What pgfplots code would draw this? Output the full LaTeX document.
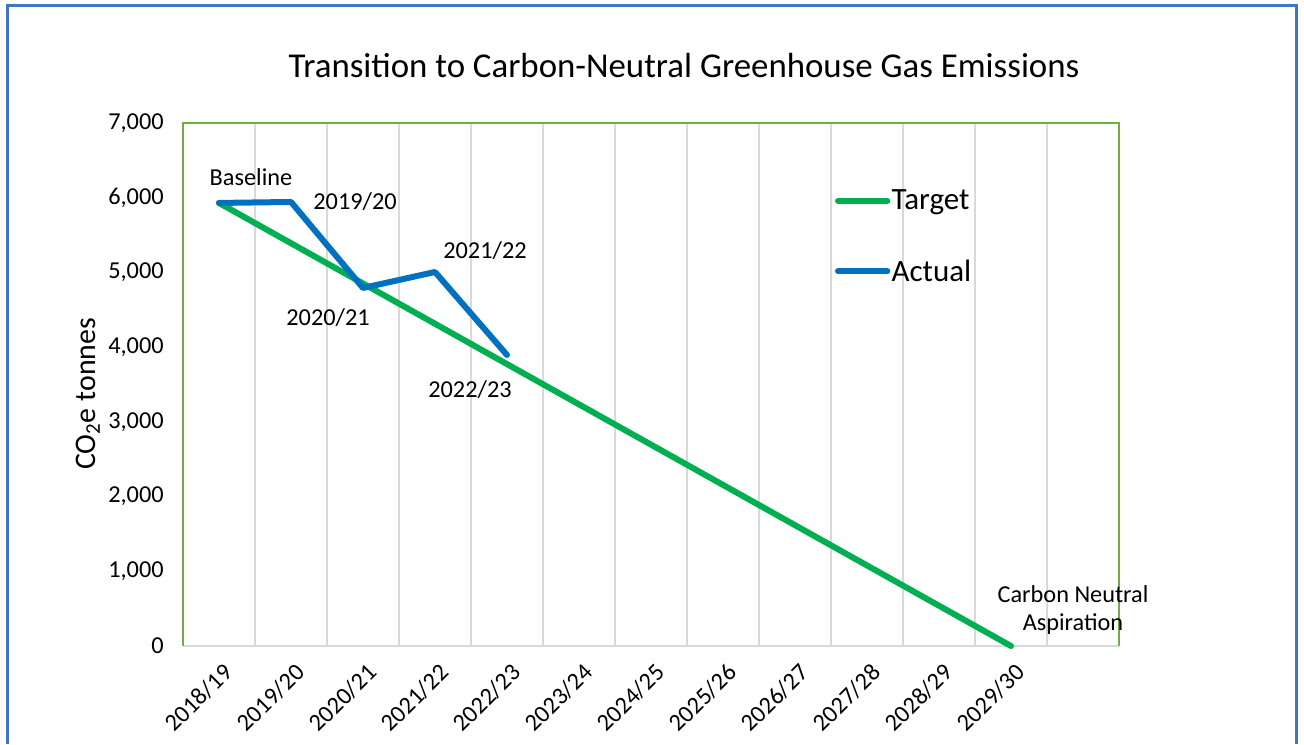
\documentclass[border=0pt]{standalone}
\usepackage{pgfplots}
\pgfplotsset{compat=1.18}
\usepackage{fontspec}
\setmainfont{Carlito}
\definecolor{tgreen}{HTML}{00B050}
\definecolor{ablue}{HTML}{0070C0}
\definecolor{framegreen}{HTML}{70AD47}
\definecolor{outerblue}{HTML}{4472C4}
\definecolor{gridgray}{HTML}{D9D9D9}
\begin{document}
\begin{tikzpicture}[x=0.75bp,y=0.75bp]
\useasboundingbox (0,0) rectangle (1304,744);
\draw[outerblue, line width=2.25bp] (7.5,0) -- (7.5,738) -- (1296,738) -- (1296,0);
\node[font=\fontsize{26.25}{30}\selectfont] at (684,678) {Transition to Carbon-Neutral Greenhouse Gas Emissions};
\begin{axis}[
  at={(137.25bp,73.5bp)}, anchor=south west,
  width=702bp, height=392.25bp, scale only axis,
  xmin=-0.5, xmax=12.5, ymin=0, ymax=7000,
  axis line style={draw=none},
  xtick={0,...,11},
  xticklabels={2018/19,2019/20,2020/21,2021/22,2022/23,2023/24,2024/25,2025/26,2026/27,2027/28,2028/29,2029/30},
  minor xtick={0.5,1.5,...,11.5},
  xminorgrids=true,
  minor grid style={gridgray, line width=1.5bp},
  major tick length=0pt, minor tick length=0pt,
  ytick={0,1000,...,7000},
  yticklabel style={/pgf/number format/1000 sep={,}, /pgf/number format/assume math mode=true, xshift=-11bp},
  tick label style={font=\fontsize{18.3}{21}\selectfont},
  x tick label style={rotate=45, anchor=north east, yshift=-6.5bp, xshift=-3.5bp},
  ylabel={CO\textsubscript{2}e tonnes},
  ylabel style={font=\fontsize{22.5}{26}\selectfont, at={(rel axis cs:-0.1015,0.482)}, anchor=center},
  legend style={draw=none, fill=none, at={(0.692,0.783)}, anchor=west,
    font=\fontsize{23.3}{26}\selectfont, row sep=34bp, column sep=0pt,
    nodes={inner sep=1bp}},
  legend cell align=left,
  legend image code/.code={\draw[#1] (0bp,0bp) -- (37bp,0bp);},
  clip=false,
]
\draw[gridgray, line width=1.5bp] (rel axis cs:0,0) -- (rel axis cs:1,0);
\draw[framegreen, line width=1.1bp] (rel axis cs:0,0) -- (rel axis cs:0,1) -- (rel axis cs:1,1) -- (rel axis cs:1,0);
\addplot[tgreen, line width=4.5bp, line cap=round, line join=round] coordinates {
  (0,5930) (1,5391) (2,4852) (3,4313) (4,3773) (5,3234) (6,2695) (7,2156) (8,1617) (9,1078) (10,539) (11,0)};
\addlegendentry{Target}
\addplot[ablue, line width=4.5bp, line cap=round, line join=round] coordinates {
  (0,5930) (1,5943) (2,4792) (3,5006) (4,3895)};
\addlegendentry{Actual}
\node[font=\fontsize{18.3}{21}\selectfont] at (axis cs:0.444,6277) {Baseline};
\node[font=\fontsize{18.3}{21}\selectfont] at (axis cs:1.889,5943) {2019/20};
\node[font=\fontsize{18.3}{21}\selectfont] at (axis cs:1.514,4390) {2020/21};
\node[font=\fontsize{18.3}{21}\selectfont] at (axis cs:3.694,5287) {2021/22};
\node[font=\fontsize{18.3}{21}\selectfont] at (axis cs:3.486,3426) {2022/23};
\node[font=\fontsize{18.3}{21.75}\selectfont, align=center] at (axis cs:11.861,482) {Carbon Neutral\\Aspiration};
\end{axis}
\end{tikzpicture}
\end{document}
